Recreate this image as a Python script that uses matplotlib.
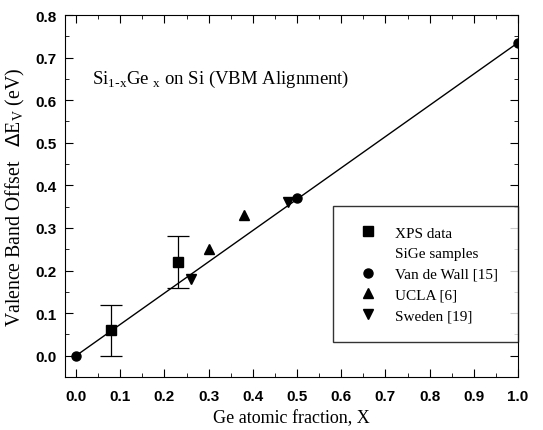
import matplotlib
matplotlib.use("Agg")
import matplotlib.pyplot as plt
from matplotlib.lines import Line2D
from matplotlib.ticker import MultipleLocator

xps_x = [0.08, 0.23]
xps_y = [0.06, 0.22]
xps_err = [0.06, 0.06]
vdw_x = [0.0, 0.5, 1.0]
vdw_y = [0.0, 0.37, 0.735]
ucla_x = [0.30, 0.38]
ucla_y = [0.25, 0.33]
swe_x = [0.26, 0.48]
swe_y = [0.18, 0.36]
fit_x = [0.0, 1.0]
fit_y = [0.0, 0.735]

serif = ["Liberation Serif", "DejaVu Serif"]
fig = plt.figure(figsize=(5.43, 4.31), dpi=100)
ax = fig.add_axes([65/543, 1-378/431, (518-65)/543, (378-16)/431])

ax.plot(fit_x, fit_y, color="black", lw=1.0)
ax.errorbar(xps_x, xps_y, yerr=xps_err, fmt="s", color="black", ms=6.5,
            capsize=8, elinewidth=0.9, capthick=0.9)
ax.plot(vdw_x, vdw_y, "o", color="black", ms=6.5)
ax.plot(ucla_x, ucla_y, "^", color="black", ms=6.5)
ax.plot(swe_x, swe_y, "v", color="black", ms=6.5)

ax.set_xlim(-0.025, 1.0)
ax.set_ylim(-0.05, 0.8)
ax.xaxis.set_major_locator(MultipleLocator(0.1))
ax.xaxis.set_minor_locator(MultipleLocator(0.05))
ax.yaxis.set_major_locator(MultipleLocator(0.1))
ax.yaxis.set_minor_locator(MultipleLocator(0.05))
ax.tick_params(which="both", direction="in", top=True, right=True)
ax.tick_params(which="major", length=6)
ax.tick_params(which="minor", length=3)
ax.tick_params(axis="x", pad=9)
ax.tick_params(axis="y", pad=6)
ax.xaxis.set_major_formatter(plt.FormatStrFormatter("%.1f"))
ax.yaxis.set_major_formatter(plt.FormatStrFormatter("%.1f"))
for lab in ax.get_xticklabels() + ax.get_yticklabels():
    lab.set_fontfamily(["Liberation Sans", "DejaVu Sans"])
    lab.set_fontweight("bold")
    lab.set_fontsize(11)

ax.set_xlabel("Ge atomic fraction, X", fontfamily=serif, fontsize=13, labelpad=4)
ax.set_ylabel(r"Valence Band Offset   $\Delta$E$_\mathregular{V}$ (eV)",
              fontfamily=serif, fontsize=14.2, labelpad=6)
ax.text(0.036, 0.64, r"Si$_\mathregular{1\text{-}x}$Ge$_\mathregular{\ x}$ on Si (VBM Alignment)",
        fontfamily=serif, fontsize=13.5, transform=ax.transData)

handles = [
    Line2D([], [], marker="s", ls="", color="black", ms=6.5),
    Line2D([], [], ls="", marker=""),
    Line2D([], [], marker="o", ls="", color="black", ms=6.5),
    Line2D([], [], marker="^", ls="", color="black", ms=6.5),
    Line2D([], [], marker="v", ls="", color="black", ms=6.5),
]
labels = ["XPS data", "SiGe samples", "Van de Wall [15]", "UCLA [6]", "Sweden [19]"]
leg = ax.legend(handles, labels, loc="lower right", bbox_to_anchor=(1.0, 0.097),
                borderaxespad=0, frameon=True, fancybox=False, edgecolor="black",
                prop={"family": serif, "size": 11}, borderpad=1.3,
                handletextpad=0.8, labelspacing=0.45)
leg.get_frame().set_linewidth(1.0)

fig.savefig("out.png", dpi=100)
